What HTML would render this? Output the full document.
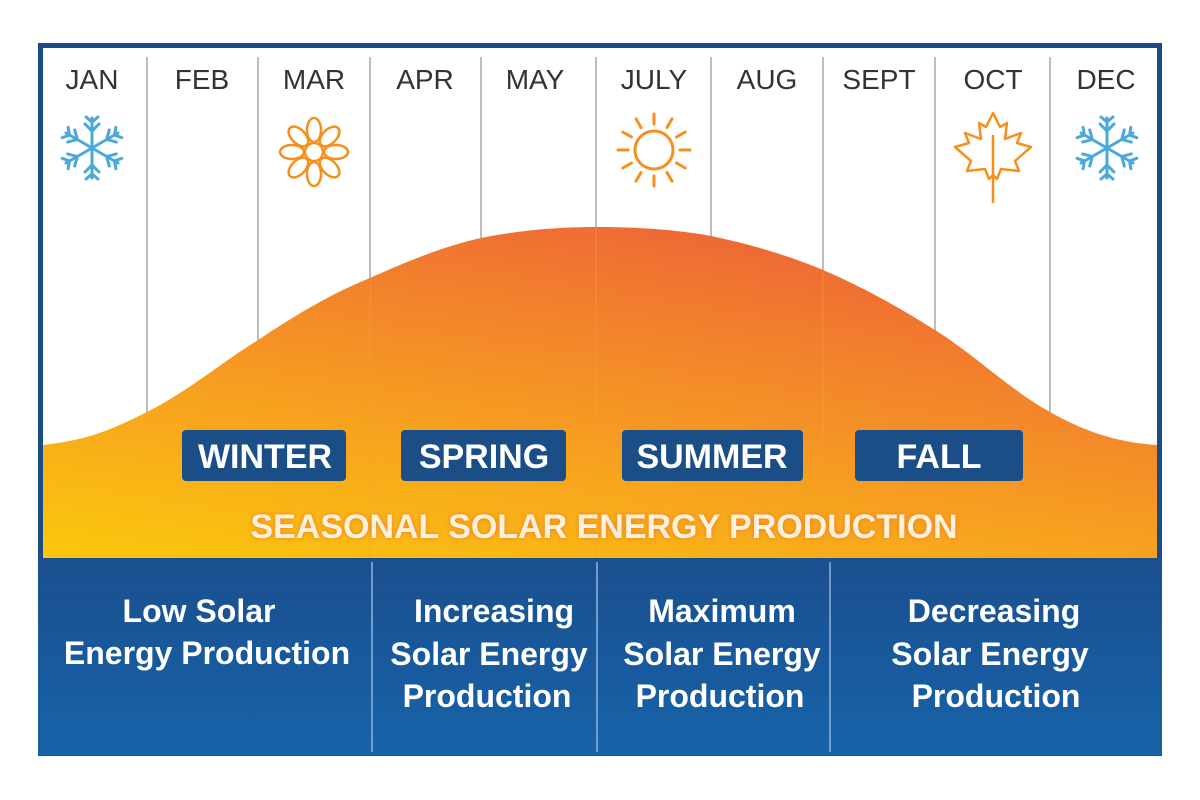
<!DOCTYPE html>
<html><head><meta charset="utf-8"><style>
body{margin:0;background:#fff;}
svg{display:block;font-family:"Liberation Sans",Arial,sans-serif;}
</style></head><body>
<svg width="1200" height="800" viewBox="0 0 1200 800">
<defs>
<linearGradient id="og" x1="0" y1="1" x2="0.55" y2="0">
<stop offset="0" stop-color="#fbc80c"/>
<stop offset="0.45" stop-color="#f7a020"/>
<stop offset="1" stop-color="#ee6a35"/>
</linearGradient>
<linearGradient id="bg" x1="0" y1="0" x2="0" y2="1">
<stop offset="0" stop-color="#1a4f8f"/>
<stop offset="1" stop-color="#1763a8"/>
</linearGradient>
<filter id="glow"><feGaussianBlur stdDeviation="2.5"/></filter>
<g id="snow" stroke="#4aa8dc" stroke-width="3" fill="none" stroke-linecap="round">
<g id="arm"><line x1="0" y1="0" x2="0" y2="-30"/><polyline points="-7,-24 0,-17 7,-24"/><polyline points="-6,-31 0,-26 6,-31"/></g>
<use href="#arm" transform="rotate(60)"/><use href="#arm" transform="rotate(120)"/><use href="#arm" transform="rotate(180)"/><use href="#arm" transform="rotate(240)"/><use href="#arm" transform="rotate(300)"/>
</g>
</defs>
<rect x="38" y="43" width="1124" height="713" fill="#1a4c84"/>
<rect x="43" y="48" width="1114" height="510" fill="#fff"/>
<g stroke="#bdbdbd" stroke-width="2">
<line x1="147" y1="57" x2="147" y2="445"/><line x1="258" y1="57" x2="258" y2="445"/>
<line x1="370" y1="57" x2="370" y2="445"/><line x1="481" y1="57" x2="481" y2="445"/>
<line x1="596" y1="57" x2="596" y2="445"/><line x1="711" y1="57" x2="711" y2="445"/>
<line x1="823" y1="57" x2="823" y2="445"/><line x1="935" y1="57" x2="935" y2="445"/>
<line x1="1050" y1="57" x2="1050" y2="445"/>
</g>
<g font-size="28" fill="#333" text-anchor="middle">
<text x="92" y="89">JAN</text><text x="202" y="89">FEB</text><text x="314" y="89">MAR</text>
<text x="425" y="89">APR</text><text x="535" y="89">MAY</text><text x="654" y="89">JULY</text>
<text x="767" y="89">AUG</text><text x="879" y="89">SEPT</text><text x="993" y="89">OCT</text>
<text x="1106" y="89">DEC</text>
</g>
<use href="#snow" x="92" y="148"/>
<use href="#snow" x="1107" y="148"/>
<g transform="translate(314,152)" stroke="#f5901e" stroke-width="2.5" fill="none">
<circle r="9"/>
<g id="pet"><ellipse cx="0" cy="-22" rx="7" ry="12"/></g>
<use href="#pet" transform="rotate(45)"/><use href="#pet" transform="rotate(90)"/><use href="#pet" transform="rotate(135)"/><use href="#pet" transform="rotate(180)"/><use href="#pet" transform="rotate(225)"/><use href="#pet" transform="rotate(270)"/><use href="#pet" transform="rotate(315)"/>
</g>
<g transform="translate(654,150)" stroke="#f5901e" stroke-width="3" fill="none" stroke-linecap="round">
<circle r="19"/>
<g id="ray"><line x1="0" y1="-26" x2="0" y2="-36"/></g>
<use href="#ray" transform="rotate(30)"/><use href="#ray" transform="rotate(60)"/><use href="#ray" transform="rotate(90)"/><use href="#ray" transform="rotate(120)"/><use href="#ray" transform="rotate(150)"/><use href="#ray" transform="rotate(180)"/><use href="#ray" transform="rotate(210)"/><use href="#ray" transform="rotate(240)"/><use href="#ray" transform="rotate(270)"/><use href="#ray" transform="rotate(300)"/><use href="#ray" transform="rotate(330)"/>
</g>
<g transform="translate(993,155)" stroke="#f5901e" stroke-width="2.5" fill="none" stroke-linejoin="round">
<path d="M0,-42 L7,-28 L14,-32 L12,-16 L28,-22 L24,-12 L38,-8 L22,6 L26,16 L8,14 L4,24 L0,20 L-4,24 L-8,14 L-26,16 L-22,6 L-38,-8 L-24,-12 L-28,-22 L-12,-16 L-14,-32 L-7,-28 Z"/>
<line x1="0" y1="-20" x2="0" y2="48"/>
</g>
<path d="M43,445 C90,440 115,428 147,412 C190,390 225,360 258,340 C300,312 335,292 370,278 C410,260 445,246 481,238 C520,230 560,227 596,227 C640,227 680,230 711,236 C750,244 790,256 823,270 C865,288 900,308 935,330 C975,355 1010,390 1050,412 C1085,432 1120,443 1157,445 L1157,558 L43,558 Z" fill="url(#og)"/>
<g stroke="#f2a040" stroke-width="1" opacity="0.6">
<line x1="370" y1="280" x2="370" y2="558"/><line x1="596" y1="228" x2="596" y2="558"/><line x1="823" y1="272" x2="823" y2="558"/>
</g>
<g fill="#1b4e86">
<rect x="182" y="430" width="164" height="51" rx="4"/>
<rect x="401" y="430" width="165" height="51" rx="4"/>
<rect x="622" y="430" width="181" height="51" rx="4"/>
<rect x="855" y="430" width="168" height="51" rx="4"/>
</g>
<g fill="#fff" font-size="34" font-weight="bold" text-anchor="middle">
<text x="265" y="468">WINTER</text><text x="484" y="468">SPRING</text>
<text x="712" y="468">SUMMER</text><text x="939" y="468">FALL</text>
</g>
<text x="604" y="538" font-size="34" font-weight="bold" text-anchor="middle" fill="#f07a20" filter="url(#glow)">SEASONAL SOLAR ENERGY PRODUCTION</text>
<text x="604" y="538" font-size="34" font-weight="bold" text-anchor="middle" fill="#fff1dc">SEASONAL SOLAR ENERGY PRODUCTION</text>
<rect x="38" y="558" width="1124" height="197" fill="url(#bg)"/>
<g stroke="#8fb4dc" stroke-width="1.5">
<line x1="372" y1="562" x2="372" y2="752"/><line x1="597" y1="562" x2="597" y2="752"/><line x1="830" y1="562" x2="830" y2="752"/>
</g>
<g fill="#fff" font-size="32" font-weight="bold" text-anchor="middle">
<text x="199" y="622">Low Solar</text><text x="207" y="664">Energy Production</text>
<text x="494" y="622">Increasing</text><text x="489" y="665">Solar Energy</text><text x="487" y="707">Production</text>
<text x="722" y="622">Maximum</text><text x="722" y="665">Solar Energy</text><text x="720" y="707">Production</text>
<text x="994" y="622">Decreasing</text><text x="990" y="665">Solar Energy</text><text x="996" y="707">Production</text>
</g>
</svg>
</body></html>
